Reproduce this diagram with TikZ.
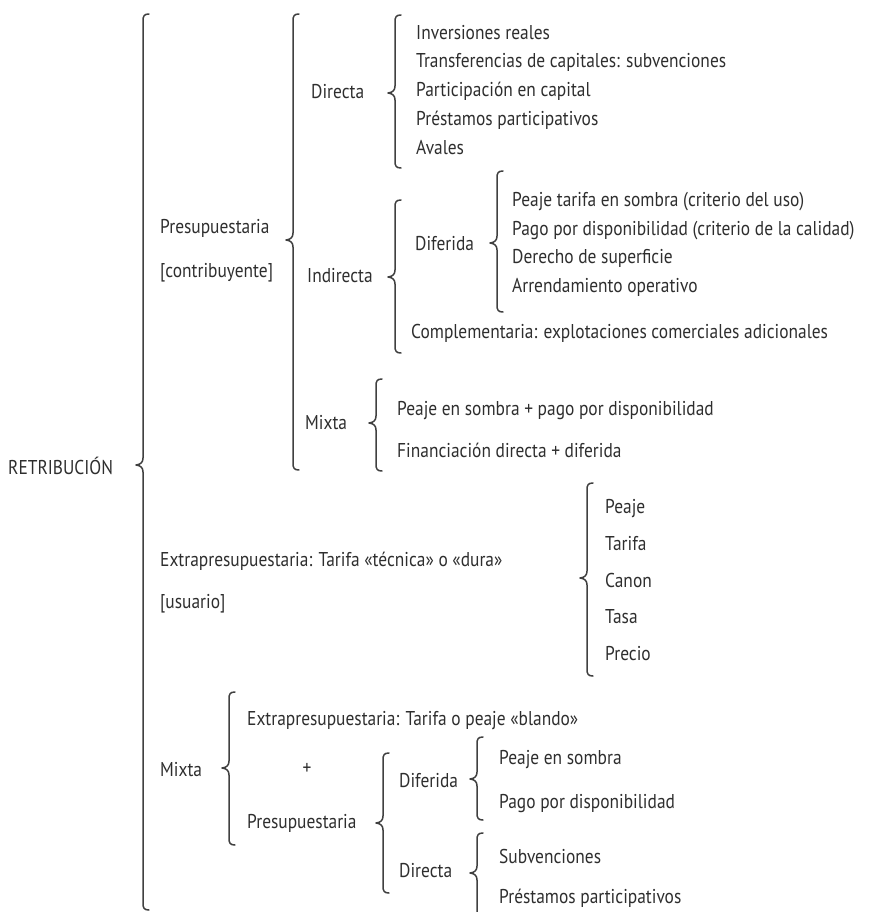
\documentclass[tikz,border=0pt]{standalone}
\usepackage{fontspec}
\setmainfont[FakeStretch=0.87]{PT Sans}
\definecolor{txtgray}{HTML}{2E2E2E}
\definecolor{brcgray}{HTML}{404040}
\tikzset{
  txt/.style={anchor=base west, inner sep=0pt, text=txtgray, font=\fontsize{20}{22}\selectfont},
  brc/.style={draw=brcgray, line width=1.5pt, line cap=round, line join=round},
}
\newcommand{\mybrace}[4]{%
  \draw[brc] ({#1+6},#2) .. controls ({#1+1},#2) and (#1,{#2+2}) .. (#1,{#2+7})
    -- (#1,{#3-7}) .. controls (#1,{#3-3}) and ({#1-2},{#3-0.5}) .. ({#1-7},#3)
    .. controls ({#1-2},{#3+0.5}) and (#1,{#3+3}) .. (#1,{#3+7})
    -- (#1,{#4-7}) .. controls (#1,{#4-2}) and ({#1+1},#4) .. ({#1+6},#4);}
\begin{document}
\begin{tikzpicture}[x=1pt,y=-1pt]
\useasboundingbox (0,0) rectangle (879,912);
\clip (0,0) rectangle (879,912);
% level 0
\node[txt] (ret) at (8,474) {RETRIBUCIÓN};
% Presupuestaria branch
\node[txt] (pre) at (160,233) {Presupuestaria};
\node[txt] (contr) at (160,277) {[contribuyente]};
\node[txt] (dir) at (311,99) {Directa};
\node[txt] (d1) at (416,40) {Inversiones reales};
\node[txt] (d2) at (416,68) {Transferencias de capitales: subvenciones};
\node[txt] (d3) at (416,97) {Participación en capital};
\node[txt] (d4) at (416,126) {Préstamos participativos};
\node[txt] (d5) at (416,155) {Avales};
\node[txt] (ind) at (307,282) {Indirecta};
\node[txt] (dif) at (415,250) {Diferida};
\node[txt] (f1) at (512,206) {Peaje tarifa en sombra (criterio del uso)};
\node[txt] (f2) at (512,235) {Pago por disponibilidad (criterio de la calidad)};
\node[txt] (f3) at (512,263) {Derecho de superficie};
\node[txt] (f4) at (512,292) {Arrendamiento operativo};
\node[txt] (comp) at (411,338) {Complementaria: explotaciones comerciales adicionales};
\node[txt] (mix) at (305,429) {Mixta};
\node[txt] (m1) at (397,415) {Peaje en sombra + pago por disponibilidad};
\node[txt] (m2) at (397,457) {Financiación directa + diferida};
% Extrapresupuestaria branch
\node[txt] (ext) at (160,566) {Extrapresupuestaria: Tarifa «técnica» o «dura»};
\node[txt] (usu) at (160,608) {[usuario]};
\node[txt] (e1) at (605,513) {Peaje};
\node[txt] (e2) at (605,550) {Tarifa};
\node[txt] (e3) at (605,587) {Canon};
\node[txt] (e4) at (605,623) {Tasa};
\node[txt] (e5) at (605,660) {Precio};
% Mixta branch
\node[txt] (mx) at (160,776) {Mixta};
\node[txt] (mx1) at (247,725) {Extrapresupuestaria: Tarifa o peaje «blando»};
\node[txt, anchor=center] (plus) at (307,769) {+};
\node[txt] (mx2) at (247,828) {Presupuestaria};
\node[txt] (ldif) at (399,787) {Diferida};
\node[txt] (l1) at (499,764) {Peaje en sombra};
\node[txt] (l2) at (499,808) {Pago por disponibilidad};
\node[txt] (ldir) at (399,877) {Directa};
\node[txt] (l3) at (499,863) {Subvenciones};
\node[txt] (l4) at (499,903) {Préstamos participativos};
% braces
\mybrace{143}{14}{465}{910}
\mybrace{293}{14}{240}{470}
\mybrace{395}{15}{93}{168}
\mybrace{395}{200}{277}{353}
\mybrace{497}{171}{243}{312}
\mybrace{376}{379}{423}{471}
\mybrace{587}{483}{578}{676}
\mybrace{229}{692}{768}{845}
\mybrace{383}{753}{823}{893}
\mybrace{477}{737}{779}{820}
\mybrace{477}{833}{873}{925}
\end{tikzpicture}
\end{document}
